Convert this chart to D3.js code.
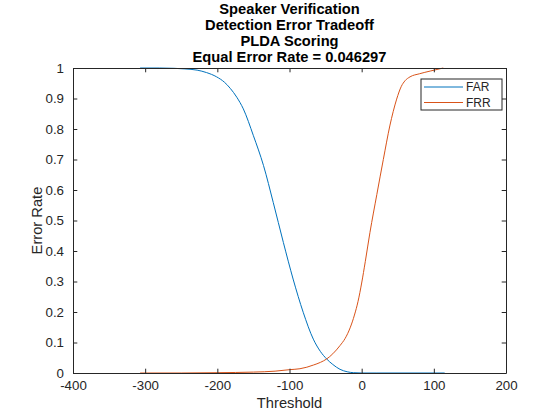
<!DOCTYPE html>
<html>
<head>
<meta charset="utf-8">
<script src="https://cdn.jsdelivr.net/npm/d3@7"></script>
<style>
    body { margin: 0; background: #fff; }
    svg { display: block; font-family: 'Liberation Sans', Arial, Helvetica, sans-serif; }
</style>
</head>
<body>
<svg id="vis-svg-det" width="560" height="420"></svg>
<script>
//Data
const titleLines = ['Speaker Verification', 'Detection Error Tradeoff', 'PLDA Scoring', 'Equal Error Rate = 0.046297']
const seriesNames = ['FAR', 'FRR']
const xTicks = [-400, -300, -200, -100, 0, 100, 200]
const yTicks = [0, 0.1, 0.2, 0.3, 0.4, 0.5, 0.6, 0.7, 0.8, 0.9, 1]
const farThresholds = [-307, -280, -260, -245, -228, -215, -201, -190, -182, -173, -164, -150, -136, -122.5, -108.5, -95, -81, -67, -57, -48.5, -40, -30, -20, -11.5, 0, 20, 115]
const farValues = [1, 1, 0.999, 0.997, 0.993, 0.985, 0.971, 0.953, 0.933, 0.904, 0.866, 0.778, 0.68, 0.559, 0.428, 0.308, 0.199, 0.111, 0.07, 0.046, 0.028, 0.012, 0.004, 0.001, 0, 0, 0]
const frrThresholds = [-307, -250, -200, -150, -120, -99.5, -85.5, -76, -67, -57, -48.5, -40, -30, -23, -16, -10, -5, 0, 5, 11.5, 21, 30, 39, 48.5, 55, 60, 67, 80, 95, 113]
const frrValues = [0, 0, 0.001, 0.003, 0.006, 0.011, 0.014, 0.019, 0.026, 0.035, 0.046, 0.063, 0.09, 0.113, 0.148, 0.19, 0.235, 0.295, 0.365, 0.461, 0.585, 0.7, 0.81, 0.898, 0.94, 0.958, 0.971, 0.981, 0.99, 1]

//Constants
const svg = d3.select('#vis-svg-det')
const colorFAR = '#0072BD'
const colorFRR = '#D95319'
const colorAxis = '#262626'
const plot = { left: 73, right: 506, top: 68, bottom: 373 }
const tickLen = 4.3

const xScale = d3.scaleLinear().domain([-400, 200]).range([plot.left, plot.right])
const yScale = d3.scaleLinear().domain([0, 1]).range([plot.bottom, plot.top])

// Title, 4 centered bold lines
const titleX = (plot.left + plot.right) / 2
svg.append('text')
    .attr('text-anchor', 'middle')
    .attr('font-size', 14.7)
    .attr('font-weight', 'bold')
    .attr('fill', '#000')
    .selectAll('tspan')
    .data(titleLines)
    .join('tspan')
    .attr('x', titleX)
    .attr('y', (d, i) => 13.5 + i * 16)
    .text(d => d)

// Curves
const series = [
    { name: seriesNames[0], color: colorFAR, x: farThresholds, values: farValues },
    { name: seriesNames[1], color: colorFRR, x: frrThresholds, values: frrValues }
]
const line = d3.line()
    .x(d => xScale(d[0]))
    .y(d => yScale(d[1]))
    .curve(d3.curveMonotoneX)

svg.append('g')
    .selectAll('path')
    .data(series)
    .join('path')
    .attr('fill', 'none')
    .attr('stroke', d => d.color)
    .attr('stroke-width', 1)
    .attr('d', d => line(d.x.map((t, i) => [t, d.values[i]])))

// Axes (box with inward ticks on all sides), plain hyphen for negatives like MATLAB
const axisBottom = d3.axisBottom(xScale).tickValues(xTicks).tickSizeInner(-tickLen).tickSizeOuter(0).tickPadding(8).tickFormat(d => String(d))
const axisTop = d3.axisTop(xScale).tickValues(xTicks).tickSizeInner(-tickLen).tickSizeOuter(0).tickFormat('')
const axisLeft = d3.axisLeft(yScale).tickValues(yTicks).tickSizeInner(-tickLen).tickSizeOuter(0).tickPadding(9).tickFormat(d => String(d))
const axisRight = d3.axisRight(yScale).tickValues(yTicks).tickSizeInner(-tickLen).tickSizeOuter(0).tickFormat('')

function styleAxis(g) {
    g.selectAll('path').attr('stroke', colorAxis).attr('stroke-width', 1)
    g.selectAll('line').attr('stroke', colorAxis)
    g.selectAll('text').attr('fill', colorAxis).attr('font-size', 13.3)
    g.attr('font-family', null)
}

svg.append('g').attr('transform', `translate(0,${plot.bottom})`).call(axisBottom).call(styleAxis)
svg.append('g').attr('transform', `translate(0,${plot.top})`).call(axisTop).call(styleAxis)
svg.append('g').attr('transform', `translate(${plot.left},0)`).call(axisLeft).call(styleAxis)
svg.append('g').attr('transform', `translate(${plot.right},0)`).call(axisRight).call(styleAxis)

// Axis labels
svg.append('text')
    .attr('x', titleX)
    .attr('y', 408)
    .attr('text-anchor', 'middle')
    .attr('font-size', 14.7)
    .attr('fill', colorAxis)
    .text('Threshold')

svg.append('text')
    .attr('transform', `translate(42,${(plot.top + plot.bottom) / 2}) rotate(-90)`)
    .attr('text-anchor', 'middle')
    .attr('font-size', 14.7)
    .attr('fill', colorAxis)
    .text('Error Rate')

// Legend
const legend = svg.append('g').attr('transform', 'translate(421,79)')
legend.append('rect')
    .attr('width', 81)
    .attr('height', 31)
    .attr('fill', '#fff')
    .attr('stroke', colorAxis)
    .attr('stroke-width', 1)

const legendItems = legend.selectAll('g.item')
    .data(series)
    .join('g')
    .attr('class', 'item')
    .attr('transform', (d, i) => `translate(0,${8 + i * 15.5})`)

legendItems.append('line')
    .attr('x1', 3)
    .attr('x2', 42)
    .attr('stroke', d => d.color)
    .attr('stroke-width', 1)

legendItems.append('text')
    .attr('x', 45)
    .attr('y', 4.3)
    .attr('font-size', 12)
    .attr('fill', colorAxis)
    .text(d => d.name)
</script>
</body>
</html>
